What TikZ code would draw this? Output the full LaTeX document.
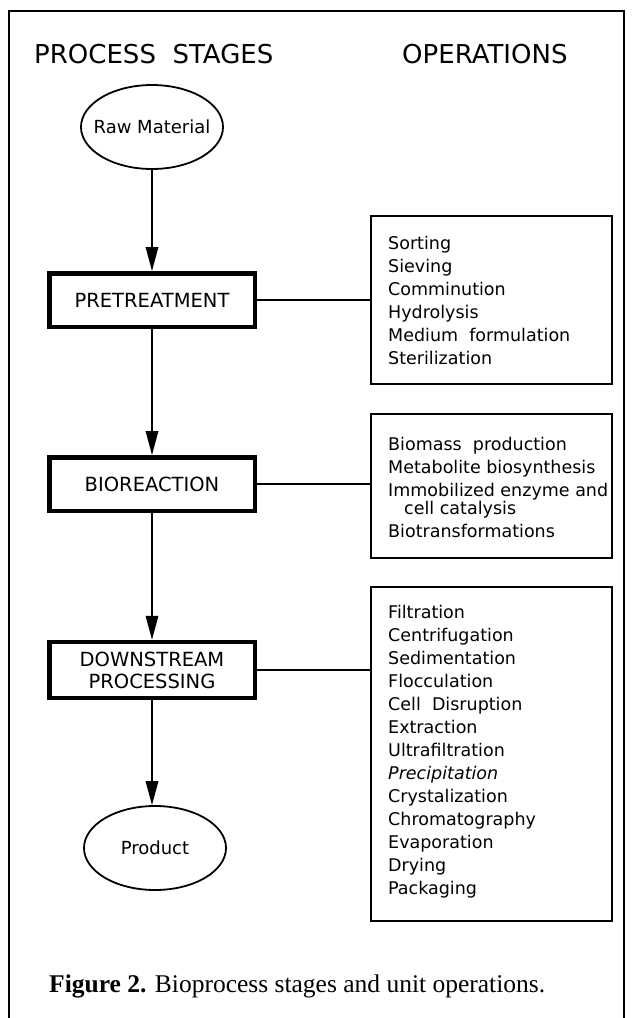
\documentclass[tikz,border=0pt]{standalone}
\usepackage{fontspec}
\setmainfont{Liberation Serif}
\newfontfamily\letfont{DejaVu Sans}
\usetikzlibrary{shapes.geometric,arrows.meta}
\begin{document}
\begin{tikzpicture}[x=1pt,y=-1pt,
  stagebox/.style={draw,line width=4.5pt,minimum width=205.5pt,inner sep=0pt,align=center,
    font=\letfont\fontsize{19.5}{22}\selectfont},
  endoval/.style={draw,ellipse,line width=1.8pt,minimum width=142pt,minimum height=84pt,inner sep=0pt},
  ovaltext/.style={inner sep=0pt,font=\letfont\fontsize{18}{20}\selectfont},
  opsbox/.style={draw,line width=2.2pt,minimum width=241pt,inner sep=0pt,anchor=north west},
  opstext/.style={inner sep=0pt,anchor=west,align=left,font=\letfont\fontsize{17.5}{23}\selectfont},
  flow/.style={line width=1.8pt,-{Triangle[length=24pt,width=12.5pt]}},
  link/.style={line width=1.8pt},
  header/.style={anchor=west,inner sep=0pt,font=\letfont\fontsize{26}{30}\selectfont}
]
\useasboundingbox (0,0) rectangle (637,1018);
% frame
\draw[line width=2pt] (9,1018) -- (9,11) -- (624,11) -- (624,1018);

% headers
\node[header] (hstages) at (34,54) {PROCESS\ \ STAGES};
\node[header] (hops) at (402,54) {OPERATIONS};

% stages
\node[endoval] (raw) at (152,127) {};
\node[ovaltext] (rawt) at (raw.center) {Raw Material};
\node[stagebox,minimum height=53.5pt] (pre) at (152,300) {PRETREATMENT};
\node[stagebox,minimum height=53.5pt] (bio) at (152,484) {BIOREACTION};
\node[stagebox,minimum height=56pt] (ds) at (152,670) {DOWNSTREAM\\PROCESSING};
\node[endoval] (prod) at (155,848) {};
\node[ovaltext] (prodt) at (prod.center) {Product};

% operations
\node[opsbox,minimum height=168pt] (ops1) at (370,215) {};
\node[opstext] (ops1t) at ([xshift=18pt]ops1.west) {Sorting\\Sieving\\Comminution\\Hydrolysis\\Medium\ \ formulation\\Sterilization};
\node[opsbox,minimum height=144pt] (ops2) at (370,413) {};
\node[opstext] (ops2t) at ([xshift=18pt,yshift=-1pt]ops2.west) {Biomass\ \ production\\Metabolite biosynthesis\\Immobilized enzyme and\\[-5pt]\hspace*{16pt}cell catalysis\\Biotransformations};
\node[opsbox,minimum height=334pt] (ops3) at (370,586) {};
\node[opstext] (ops3t) at ([xshift=18pt,yshift=2pt]ops3.west) {Filtration\\Centrifugation\\Sedimentation\\Flocculation\\Cell\ \ Disruption\\Extraction\\Ultrafiltration\\\textit{Precipitation}\\Crystalization\\Chromatography\\Evaporation\\Drying\\Packaging};

% flow arrows
\draw[flow] (raw) -- (pre);
\draw[flow] (pre) -- (bio);
\draw[flow] (bio) -- (ds);
\draw[flow] (ds) -- (ds.south |- prod.north);

% links
\draw[link] (pre.east) -- (pre.east -| ops1.west);
\draw[link] (bio.east) -- (bio.east -| ops2.west);
\draw[link] (ds.east) -- (ds.east -| ops3.west);

% caption
\node[anchor=base west,inner sep=0pt,font=\fontsize{25.5}{30}\selectfont] (cap) at (49,992)
  {\textbf{Figure 2.} Bioprocess stages and unit operations.};
\end{tikzpicture}
\end{document}
